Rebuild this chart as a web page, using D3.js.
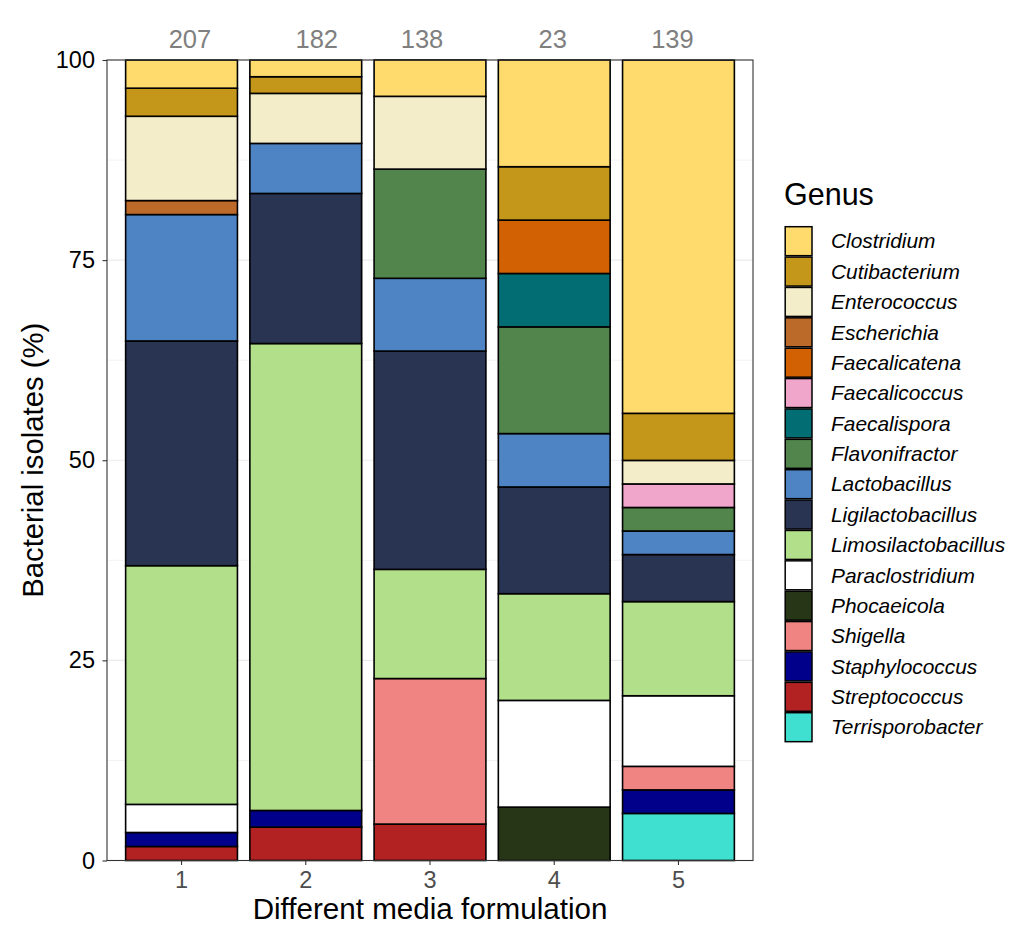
<!DOCTYPE html>
<html>
<head>
<meta charset="utf-8">
<script src="https://cdn.jsdelivr.net/npm/d3@7"></script>
<style>
  html, body { margin: 0; padding: 0; background: #fff; }
  svg { display: block; font-family: "Liberation Sans", Arial, sans-serif; }
</style>
</head>
<body>
<svg id="chart" width="1030" height="945"></svg>
<script>
// ---------------- DATA ----------------
const media = ["1", "2", "3", "4", "5"];
const isolateCounts = ["207", "182", "138", "23", "139"];
const yTicks = [0, 25, 50, 75, 100];

const genera = ["Clostridium", "Cutibacterium", "Enterococcus", "Escherichia", "Faecalicatena",
  "Faecalicoccus", "Faecalispora", "Flavonifractor", "Lactobacillus", "Ligilactobacillus",
  "Limosilactobacillus", "Paraclostridium", "Phocaeicola", "Shigella", "Staphylococcus",
  "Streptococcus", "Terrisporobacter"];

const genusColors = ["#FFDB6D", "#C4961A", "#F4EDCA", "#BC6A2A", "#D16103",
  "#F0A6CA", "#026E74", "#52854C", "#4E84C4", "#293352",
  "#B2DF8A", "#FFFFFF", "#283618", "#F08482", "#00008B",
  "#B22222", "#40E0D0"];

// percentage of isolates per genus for media 1..5
const clostridium         = [3.51, 2.08, 4.55, 13.33, 44.12];
const cutibacterium       = [3.51, 2.08, 0, 6.67, 5.88];
const enterococcus        = [10.53, 6.25, 9.09, 0, 2.94];
const escherichia         = [1.75, 0, 0, 0, 0];
const faecalicatena       = [0, 0, 0, 6.67, 0];
const faecalicoccus       = [0, 0, 0, 0, 2.94];
const faecalispora        = [0, 0, 0, 6.67, 0];
const flavonifractor      = [0, 0, 13.64, 13.33, 2.94];
const lactobacillus       = [15.79, 6.25, 9.09, 6.67, 2.94];
const ligilactobacillus   = [28.07, 18.75, 27.27, 13.33, 5.88];
const limosilactobacillus = [29.82, 58.33, 13.64, 13.33, 11.76];
const paraclostridium     = [3.51, 0, 0, 13.33, 8.82];
const phocaeicola         = [0, 0, 0, 6.67, 0];
const shigella            = [0, 0, 18.18, 0, 2.94];
const staphylococcus      = [1.75, 2.08, 0, 0, 2.94];
const streptococcus       = [1.75, 4.17, 4.55, 0, 0];
const terrisporobacter    = [0, 0, 0, 0, 5.88];

const seriesValues = [clostridium, cutibacterium, enterococcus, escherichia, faecalicatena,
  faecalicoccus, faecalispora, flavonifractor, lactobacillus, ligilactobacillus,
  limosilactobacillus, paraclostridium, phocaeicola, shigella, staphylococcus,
  streptococcus, terrisporobacter];

// ---------------- TABLE ----------------
const table = media.map((m, i) => {
  const row = { media: m };
  genera.forEach((g, j) => { row[g] = seriesValues[j][i]; });
  return row;
});

// ---------------- LAYOUT ----------------
const svg = d3.select("#chart");
const panel = { left: 107, right: 753, top: 60, bottom: 860.5 };

const x = d3.scaleBand().domain(media)
  .range([panel.left, panel.right]).paddingInner(0.1).paddingOuter(0.15);
const y = d3.scaleLinear().domain([0, 100]).range([panel.bottom, panel.top]);
const color = d3.scaleOrdinal().domain(genera).range(genusColors);

// grid
const grid = svg.append("g");
const minor = d3.range(12.5, 100, 25);
grid.selectAll("line.minor").data(minor).join("line")
  .attr("x1", panel.left).attr("x2", panel.right)
  .attr("y1", d => y(d)).attr("y2", d => y(d))
  .attr("stroke", "#EBEBEB").attr("stroke-width", 0.6);
grid.selectAll("line.major").data(yTicks).join("line")
  .attr("x1", panel.left).attr("x2", panel.right)
  .attr("y1", d => y(d)).attr("y2", d => y(d))
  .attr("stroke", "#EBEBEB").attr("stroke-width", 1.1);
grid.selectAll("line.vmajor").data(media).join("line")
  .attr("x1", d => x(d) + x.bandwidth() / 2).attr("x2", d => x(d) + x.bandwidth() / 2)
  .attr("y1", panel.top).attr("y2", panel.bottom)
  .attr("stroke", "#EBEBEB").attr("stroke-width", 1.1);

// stacked bars (first genus on top)
const stack = d3.stack().keys(genera.slice().reverse());
const layers = stack(table);

svg.append("g").selectAll("g").data(layers).join("g")
  .attr("fill", d => color(d.key))
  .selectAll("rect").data(d => d.filter(s => s[1] - s[0] > 0))
  .join("rect")
  .attr("x", d => x(d.data.media))
  .attr("width", x.bandwidth())
  .attr("y", d => y(d[1]))
  .attr("height", d => y(d[0]) - y(d[1]))
  .attr("stroke", "#000").attr("stroke-width", 1.6);

// panel border
svg.append("rect")
  .attr("x", panel.left).attr("y", panel.top)
  .attr("width", panel.right - panel.left).attr("height", panel.bottom - panel.top)
  .attr("fill", "none").attr("stroke", "#333333").attr("stroke-width", 1.1);

// axes
const yAxis = svg.append("g").attr("transform", `translate(${panel.left},0)`)
  .call(d3.axisLeft(y).tickValues(yTicks).tickSize(4.5).tickPadding(7.5));
yAxis.select(".domain").remove();
yAxis.selectAll(".tick line").attr("stroke", "#333333").attr("stroke-width", 1.1);
yAxis.selectAll(".tick text").attr("fill", "#000").style("font-size", "23.5px")
  .style("font-family", "'Liberation Sans', Arial, sans-serif");

const xAxis = svg.append("g").attr("transform", `translate(0,${panel.bottom})`)
  .call(d3.axisBottom(x).tickSize(4.5).tickPadding(6.2));
xAxis.select(".domain").remove();
xAxis.selectAll(".tick line").attr("stroke", "#333333").attr("stroke-width", 1.1);
xAxis.selectAll(".tick text").attr("fill", "#4D4D4D").style("font-size", "23.5px")
  .style("font-family", "'Liberation Sans', Arial, sans-serif");

// isolate counts on top
const countNudge = [8.4, 11, -8, -1.5, -6];
svg.append("g").selectAll("text").data(media).join("text")
  .attr("x", (d, i) => x(d) + x.bandwidth() / 2 + countNudge[i])
  .attr("y", 48.3)
  .attr("text-anchor", "middle")
  .attr("fill", "#7F7F7F")
  .style("font-size", "25.5px")
  .text((d, i) => isolateCounts[i]);

// axis titles
svg.append("text")
  .attr("x", (panel.left + panel.right) / 2).attr("y", 919)
  .attr("text-anchor", "middle").attr("fill", "#000")
  .style("font-size", "29.6px")
  .text("Different media formulation");

svg.append("text")
  .attr("transform", `translate(43,${(panel.top + panel.bottom) / 2}) rotate(-90)`)
  .attr("text-anchor", "middle").attr("fill", "#000")
  .style("font-size", "29.3px")
  .text("Bacterial isolates (%)");

// legend
const legend = svg.append("g");
legend.append("text")
  .attr("x", 784).attr("y", 205)
  .attr("fill", "#000").style("font-size", "30.5px")
  .text("Genus");

const keyTop = 226, pitch = 30.375;
const items = legend.selectAll("g.item").data(genera).join("g")
  .attr("transform", (d, i) => `translate(0,${keyTop + i * pitch})`);
items.append("rect")
  .attr("x", 785.2).attr("y", 0.7)
  .attr("width", 26.8).attr("height", pitch - 1.4)
  .attr("fill", d => color(d))
  .attr("stroke", "#000").attr("stroke-width", 1.5);
items.append("text")
  .attr("x", 831).attr("y", pitch / 2 + 7.2)
  .attr("fill", "#000")
  .style("font-size", "20.9px").style("font-style", "italic")
  .text(d => d);
</script>
</body>
</html>
